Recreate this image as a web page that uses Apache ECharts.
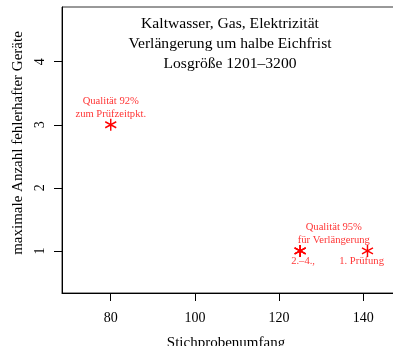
<!DOCTYPE html>
<html><head><meta charset="utf-8">
<script src="https://cdn.jsdelivr.net/npm/echarts@6/dist/echarts.min.js"></script>
<style>html,body{margin:0;padding:0;background:#fff}#c{width:393px;height:346px}</style>
</head><body><div id="c"></div>
<script>
// ---- data ----
const titleLines = ['Kaltwasser, Gas, Elektrizität', 'Verlängerung um halbe Eichfrist', 'Losgröße 1201–3200'];
const sampleSizes = [80, 125, 125, 125, 141];   // Stichprobenumfang (2.–4. Prüfung overplotted)
const maxDefects  = [3, 1, 1, 1, 1];            // maximale Anzahl fehlerhafter Geräte
const xTicks = [80, 100, 120, 140];
const yTicks = [1, 2, 3, 4];
const annotX = [80, 133, 125.7, 139.6];
const annotY = [3.27, 1.27, 0.83, 0.83];
const annotText = ['Qualität 92%\nzum Prüfzeitpkt.', 'Qualität 95%\nfür Verlängerung', '2.–4.,', '1. Prüfung'];
const xName = 'Stichprobenumfang';
const yName = 'maximale Anzahl fehlerhafter Geräte';

const FONT = "'Liberation Serif','DejaVu Serif',serif";
const RED = '#ff0000';
const ASTER = 'path://M0,-1L0,1M-0.866,-0.5L0.866,0.5M-0.866,0.5L0.866,-0.5';

const chart = echarts.init(document.getElementById('c'), null, {renderer: 'canvas'});
chart.setOption({
  animation: false,
  backgroundColor: '#fff',
  title: {
    text: titleLines.join('\n'),
    left: 225, top: 9, textAlign: 'center',
    textStyle: {fontFamily: FONT, fontSize: 15.6, fontWeight: 'normal', color: '#000', lineHeight: 20}
  },
  grid: {left: 62, right: -5, top: 7, bottom: 53, show: true, borderColor: '#333', borderWidth: 1, outerBoundsMode: 'none'},
  xAxis: {
    type: 'value', min: 68.42, max: 148.25,
    axisLine: {show: true, lineStyle: {color: '#000', width: 1}},
    axisTick: {show: true, customValues: xTicks, length: 8, lineStyle: {color: '#000'}},
    axisLabel: {customValues: xTicks, margin: 18, fontSize: 14, color: '#000', fontFamily: FONT},
    splitLine: {show: false},
    name: xName, nameLocation: 'middle', nameGap: 43,
    nameTextStyle: {fontFamily: FONT, fontSize: 15, color: '#000', padding: [0, 8, 0, 0]}
  },
  yAxis: {
    type: 'value', min: 0.332, max: 4.868,
    axisLine: {show: true, lineStyle: {color: '#000', width: 1}},
    axisTick: {show: true, customValues: yTicks, length: 8, lineStyle: {color: '#000'}},
    axisLabel: {customValues: yTicks, margin: 15, fontSize: 14, color: '#000', fontFamily: FONT, rotate: 90},
    splitLine: {show: false},
    name: yName, nameLocation: 'middle', nameGap: 36,
    nameTextStyle: {fontFamily: FONT, fontSize: 15, color: '#000', padding: [0, 0, 0, 14]}
  },
  series: [
    {
      type: 'scatter',
      data: sampleSizes.map((x, i) => [x, maxDefects[i]]),
      symbol: ASTER, symbolSize: [11, 12],
      itemStyle: {color: 'rgba(0,0,0,0)', borderColor: RED, borderWidth: 1.5, opacity: 1},
      z: 3
    },
    {
      type: 'scatter',
      data: annotX.map((x, i) => ({value: [x, annotY[i]], text: annotText[i]})),
      symbol: 'circle', symbolSize: 1,
      itemStyle: {color: 'rgba(0,0,0,0)'},
      label: {
        show: true, position: 'inside',
        formatter: p => p.data.text,
        fontFamily: FONT, fontSize: 10.6, color: RED, lineHeight: 13, align: 'center'
      },
      z: 4
    }
  ]
});
</script>
</body></html>
